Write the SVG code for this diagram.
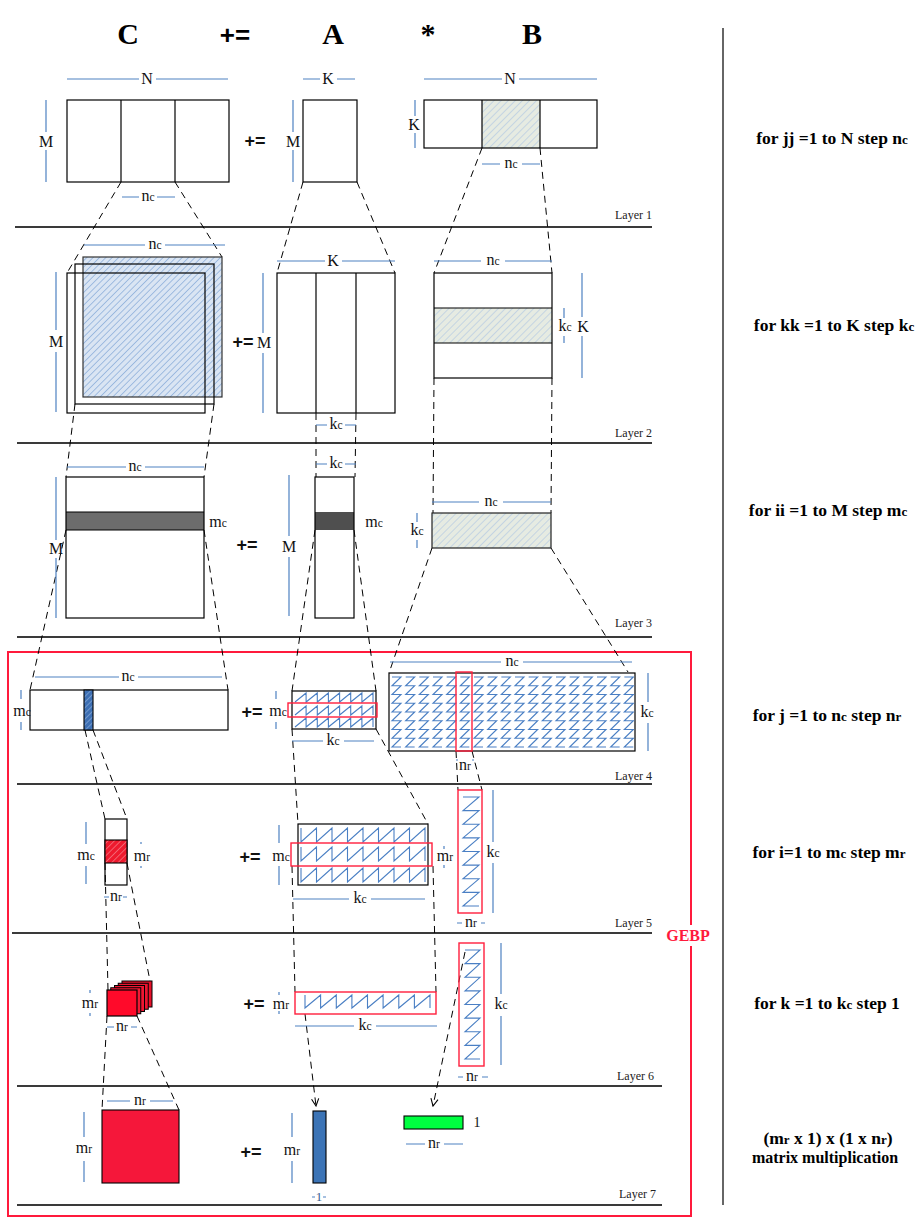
<svg xmlns="http://www.w3.org/2000/svg" xmlns:xlink="http://www.w3.org/1999/xlink" width="920" height="1226" viewBox="0 0 920 1226">
<style>
.k{fill:none;stroke:#000;stroke-width:1.2}
.d{fill:none;stroke:#000;stroke-width:1;stroke-dasharray:7 5}
.dim{fill:none;stroke:#4f82c2;stroke-width:1.2}
.sep{stroke:#3a3a3a;stroke-width:2}
.t{font-family:"Liberation Serif",serif;font-size:16px;text-anchor:middle;fill:#111}
.s{font-size:11.5px}
.lay{font-family:"Liberation Serif",serif;font-size:12px;text-anchor:end;fill:#222}
.pe{font-family:"Liberation Sans",sans-serif;font-weight:bold;font-size:18px;text-anchor:middle;fill:#111}
.hd{font-family:"Liberation Serif",serif;font-weight:bold;font-size:30px;text-anchor:middle;fill:#000}
.rt{font-family:"Liberation Serif",serif;font-weight:bold;font-size:17.5px;text-anchor:middle;fill:#000}
.rs{font-size:13px}
.zz{fill:none;stroke:#4a7fc4;stroke-width:1.1}
.rr{fill:none;stroke:#ff1f3d;stroke-width:1.4}
</style>
<defs>
<pattern id="hb" width="4.5" height="4.5" patternUnits="userSpaceOnUse" patternTransform="rotate(45)"><rect width="4.5" height="4.5" fill="#dae5f3"/><line x1="0" y1="0" x2="0" y2="4.5" stroke="#7fa5d6" stroke-width="1.3"/></pattern>
<pattern id="hg" width="5" height="5" patternUnits="userSpaceOnUse" patternTransform="rotate(45)"><rect width="5" height="5" fill="#e6ebe2"/><line x1="0" y1="0" x2="0" y2="5" stroke="#a9c2e2" stroke-width="1.1"/></pattern>
<pattern id="hd" width="4" height="4" patternUnits="userSpaceOnUse" patternTransform="rotate(45)"><rect width="4" height="4" fill="#3d6fb3"/><line x1="0" y1="0" x2="0" y2="4" stroke="#a4c0e6" stroke-width="1"/></pattern>
<pattern id="hr" width="4.5" height="4.5" patternUnits="userSpaceOnUse" patternTransform="rotate(45)"><rect width="4.5" height="4.5" fill="#ee1a2e"/><line x1="0" y1="0" x2="0" y2="4.5" stroke="#f6a3ab" stroke-width="1"/></pattern>
<path id="zcol" class="zz" d="M3,0 H12 L3,8.75 H12 L3,17.5 H12 L3,26.25 H12 L3,35 H12 L3,43.75 H12 L3,52.5 H12 L3,61.25 H12 L3,70 H12"/>
<path id="arow4" class="zz" d="M295,9 L306.1,0 V9 L317.3,0 V9 L328.4,0 V9 L339.6,0 V9 L350.7,0 V9 L361.9,0 V9 L373,0 V9"/>
<path id="arow5" class="zz" d="M301,0 V14 L316.5,0 V14 L332,0 V14 L347.5,0 V14 L363,0 V14 L378.5,0 V14 L394,0 V14 L409.5,0 V14 L425,0 V14"/>
<marker id="ar" viewBox="0 0 10 10" refX="9" refY="5" markerWidth="9" markerHeight="9" orient="auto" markerUnits="userSpaceOnUse"><path d="M1,1 L9,5 L1,9" fill="none" stroke="#000" stroke-width="1.2"/></marker>
</defs>
<rect width="920" height="1226" fill="#fff"/>

<g id="header">
<text class="hd" x="128" y="44">C</text>
<text x="235" y="44" font-family="Liberation Sans, sans-serif" font-weight="bold" font-size="26" text-anchor="middle">+=</text>
<text class="hd" x="333" y="44">A</text>
<text class="hd" x="428" y="44">*</text>
<text class="hd" x="532" y="44">B</text>
</g>

<g id="divider"><line x1="723" y1="28" x2="723" y2="1205" stroke="#333" stroke-width="1.5"/></g>

<g id="loops">
<text class="rt" x="832" y="144">for jj =1 to N step n<tspan class="rs">c</tspan></text>
<text class="rt" x="834" y="331">for kk =1 to K step k<tspan class="rs">c</tspan></text>
<text class="rt" x="828" y="516">for ii =1 to M step m<tspan class="rs">c</tspan></text>
<text class="rt" x="827" y="721">for j =1 to n<tspan class="rs">c</tspan> step n<tspan class="rs">r</tspan></text>
<text class="rt" x="829" y="858">for i=1 to m<tspan class="rs">c</tspan> step m<tspan class="rs">r</tspan></text>
<text class="rt" x="827" y="1009">for k =1 to k<tspan class="rs">c</tspan> step 1</text>
<text class="rt" x="828" y="1144">(m<tspan class="rs">r</tspan> x 1) x (1 x n<tspan class="rs">r</tspan>)</text>
<text class="rt" x="825" y="1163" style="font-size:16px">matrix multiplication</text>
</g>

<g id="layers">
<line class="sep" x1="15" y1="227" x2="652" y2="227"/>
<line class="sep" x1="17" y1="443" x2="652" y2="443"/>
<line class="sep" x1="17" y1="637" x2="652" y2="637"/>
<line class="sep" x1="17" y1="784" x2="652" y2="784"/>
<line class="sep" x1="12" y1="933" x2="652" y2="933"/>
<line class="sep" x1="17" y1="1086" x2="662" y2="1086"/>
<line class="sep" x1="17" y1="1205" x2="662" y2="1205"/>
<text class="lay" x="652" y="219">Layer 1</text>
<text class="lay" x="652" y="437">Layer 2</text>
<text class="lay" x="652" y="627">Layer 3</text>
<text class="lay" x="652" y="780">Layer 4</text>
<text class="lay" x="652" y="927">Layer 5</text>
<text class="lay" x="654" y="1080">Layer 6</text>
<text class="lay" x="656" y="1198">Layer 7</text>
</g>

<g id="gebp">
<rect x="8" y="652" width="683" height="564" fill="none" stroke="#ff1a3c" stroke-width="2"/>
<rect x="665" y="925" width="46" height="21" fill="#fff"/>
<text x="688" y="941" font-family="Liberation Serif, serif" font-weight="bold" font-size="16" fill="#ff1a3c" text-anchor="middle">GEBP</text>
</g>

<g id="connectors">
<line class="d" x1="121" y1="182" x2="67" y2="273"/>
<line class="d" x1="175" y1="182" x2="222" y2="257"/>
<line class="d" x1="303" y1="182" x2="277" y2="273"/>
<line class="d" x1="357" y1="182" x2="395" y2="273"/>
<line class="d" x1="482" y1="148" x2="434" y2="273"/>
<line class="d" x1="540" y1="148" x2="552" y2="273"/>
<line class="d" x1="75" y1="404" x2="66" y2="477"/>
<line class="d" x1="214" y1="404" x2="204" y2="477"/>
<line class="d" x1="316" y1="413" x2="316" y2="477"/>
<line class="d" x1="356" y1="413" x2="355" y2="477"/>
<line class="d" x1="434" y1="378" x2="433" y2="513"/>
<line class="d" x1="552" y1="378" x2="551" y2="513"/>
<line class="d" x1="66" y1="530" x2="30" y2="690"/>
<line class="d" x1="204" y1="530" x2="228" y2="690"/>
<line class="d" x1="315" y1="530" x2="292" y2="691"/>
<line class="d" x1="354" y1="530" x2="376" y2="691"/>
<line class="d" x1="432" y1="548" x2="389" y2="673"/>
<line class="d" x1="551" y1="548" x2="628" y2="672"/>
<line class="d" x1="85" y1="730" x2="105" y2="819"/>
<line class="d" x1="93" y1="730" x2="127" y2="819"/>
<line class="d" x1="292" y1="729" x2="298" y2="824"/>
<line class="d" x1="376" y1="729" x2="428" y2="824"/>
<line class="d" x1="456" y1="751" x2="458" y2="790"/>
<line class="d" x1="472" y1="751" x2="482" y2="790"/>
<line class="d" x1="105" y1="863" x2="108" y2="990"/>
<line class="d" x1="127" y1="863" x2="150" y2="981"/>
<line class="d" x1="292" y1="866" x2="295" y2="992"/>
<line class="d" x1="433" y1="866" x2="436" y2="992"/>
<line class="d" x1="107" y1="1016" x2="102" y2="1110"/>
<line class="d" x1="137" y1="1016" x2="179" y2="1110"/>
<line class="d" x1="305" y1="1014" x2="316" y2="1106" marker-end="url(#ar)"/>
<line class="d" x1="465" y1="952" x2="433" y2="1106" marker-end="url(#ar)"/>
</g>

<!-- Layer 1 -->
<g id="C1">
<rect class="k" x="67" y="100" width="162" height="82"/>
<line class="k" x1="121" y1="100" x2="121" y2="182"/>
<line class="k" x1="175" y1="100" x2="175" y2="182"/>
<path class="dim" d="M67,79 H139 M156,79 H228 M46,100 V132 M46,150 V182 M122,197 H139 M157,197 H175"/>
<text class="t" x="147" y="84">N</text>
<text class="t" x="46" y="147">M</text>
<text class="t" x="148" y="201">n<tspan class="s">c</tspan></text>
</g>
<text class="pe" x="255" y="147">+=</text>
<g id="A1">
<rect class="k" x="303" y="100" width="54" height="82"/>
<path class="dim" d="M303,79 H320 M337,79 H355 M293,100 V132 M293,150 V182"/>
<text class="t" x="328" y="84">K</text>
<text class="t" x="293" y="147">M</text>
</g>
<g id="B1">
<rect x="482" y="100" width="58" height="48" fill="url(#hg)"/>
<rect class="k" x="424" y="100" width="173" height="48"/>
<line class="k" x1="482" y1="100" x2="482" y2="148"/>
<line class="k" x1="540" y1="100" x2="540" y2="148"/>
<path class="dim" d="M424,79 H502 M519,79 H597 M415,100 V116 M415,133 V148 M482,164 H500 M522,164 H540"/>
<text class="t" x="510" y="84">N</text>
<text class="t" x="414" y="130">K</text>
<text class="t" x="511" y="168">n<tspan class="s">c</tspan></text>
</g>

<!-- Layer 2 -->
<g id="C2">
<rect x="83" y="257" width="139" height="140" fill="url(#hb)" stroke="#333" stroke-width="1.2"/>
<rect class="k" x="75" y="264" width="139" height="140"/>
<rect class="k" x="67" y="273" width="138" height="140"/>
<path class="dim" d="M84,245 H145 M165,245 H225 M56,272 V330 M56,352 V412"/>
<text class="t" x="155" y="249">n<tspan class="s">c</tspan></text>
<text class="t" x="56" y="347">M</text>
</g>
<text class="pe" x="243" y="348">+=</text>
<g id="A2">
<rect class="k" x="277" y="273" width="118" height="140"/>
<line class="k" x1="316" y1="273" x2="316" y2="413"/>
<line class="k" x1="356" y1="273" x2="356" y2="413"/>
<path class="dim" d="M277,261 H325 M342,261 H395 M263,273 V333 M263,353 V413 M316,425 H327 M345,425 H356"/>
<text class="t" x="333" y="266">K</text>
<text class="t" x="264" y="348">M</text>
<text class="t" x="336" y="429">k<tspan class="s">c</tspan></text>
</g>
<g id="B2">
<rect x="434" y="308" width="118" height="35" fill="url(#hg)"/>
<rect class="k" x="434" y="273" width="118" height="105"/>
<line class="k" x1="434" y1="308" x2="552" y2="308"/>
<line class="k" x1="434" y1="343" x2="552" y2="343"/>
<path class="dim" d="M434,261 H481 M505,261 H552 M564,308 V318 M564,336 V343 M582,273 V317 M582,336 V378"/>
<text class="t" x="493" y="265">n<tspan class="s">c</tspan></text>
<text class="t" x="565" y="331">k<tspan class="s">c</tspan></text>
<text class="t" x="583" y="332">K</text>
</g>

<!-- Layer 3 -->
<g id="C3">
<rect x="66" y="512" width="138" height="18" fill="#6c6c6c"/>
<rect class="k" x="66" y="477" width="138" height="141"/>
<line class="k" x1="66" y1="512" x2="204" y2="512"/>
<line class="k" x1="66" y1="530" x2="204" y2="530"/>
<path class="dim" d="M67,467 H126 M145,467 H204 M56,477 V540 M56,558 V618"/>
<text class="t" x="135" y="471">n<tspan class="s">c</tspan></text>
<text class="t" x="56" y="554">M</text>
<text class="t" x="218" y="527">m<tspan class="s">c</tspan></text>
</g>
<text class="pe" x="247" y="551">+=</text>
<g id="A3">
<rect x="315" y="512" width="39" height="18" fill="#4f4f4f"/>
<rect class="k" x="315" y="477" width="39" height="141"/>
<path class="dim" d="M316,464 H327 M345,464 H356 M289,475 V536 M289,557 V616"/>
<text class="t" x="336" y="468">k<tspan class="s">c</tspan></text>
<text class="t" x="289" y="552">M</text>
<text class="t" x="374" y="527">m<tspan class="s">c</tspan></text>
</g>
<g id="B3">
<rect x="432" y="513" width="119" height="35" fill="url(#hg)" stroke="#222" stroke-width="1.2"/>
<path class="dim" d="M432,502 H479 M503,502 H551 M417,513 V522 M417,540 V548"/>
<text class="t" x="491" y="506">n<tspan class="s">c</tspan></text>
<text class="t" x="417" y="535">k<tspan class="s">c</tspan></text>
</g>

<!-- Layer 4 -->
<g id="C4">
<rect class="k" x="30" y="690" width="198" height="40"/>
<rect x="84" y="690" width="9" height="40" fill="url(#hd)" stroke="#000" stroke-width="1.1"/>
<path class="dim" d="M35,677 H119 M138,677 H222 M21,690 V699 M21,722 V730"/>
<text class="t" x="128" y="681">n<tspan class="s">c</tspan></text>
<text class="t" x="22" y="716">m<tspan class="s">c</tspan></text>
</g>
<text class="pe" x="252" y="718">+=</text>
<g id="A4">
<rect class="k" x="292" y="691" width="84" height="38"/>
<use xlink:href="#arow4" href="#arow4" y="693"/>
<use xlink:href="#arow4" href="#arow4" y="706"/>
<use xlink:href="#arow4" href="#arow4" y="718"/>
<rect class="rr" x="288" y="703" width="89" height="14"/>
<path class="dim" d="M276,691 V699 M276,722 V729 M292,741 H323 M344,741 H374"/>
<text class="t" x="278" y="716">m<tspan class="s">c</tspan></text>
<text class="t" x="333" y="745">k<tspan class="s">c</tspan></text>
</g>
<g id="B4">
<rect class="k" x="389" y="673" width="246" height="78"/>
<use href="#zcol" x="389" y="677"/><use href="#zcol" x="402.67" y="677"/><use href="#zcol" x="416.33" y="677"/>
<use href="#zcol" x="430" y="677"/><use href="#zcol" x="443.67" y="677"/><use href="#zcol" x="457.33" y="677"/>
<use href="#zcol" x="471" y="677"/><use href="#zcol" x="484.67" y="677"/><use href="#zcol" x="498.33" y="677"/>
<use href="#zcol" x="512" y="677"/><use href="#zcol" x="525.67" y="677"/><use href="#zcol" x="539.33" y="677"/>
<use href="#zcol" x="553" y="677"/><use href="#zcol" x="566.67" y="677"/><use href="#zcol" x="580.33" y="677"/>
<use href="#zcol" x="594" y="677"/><use href="#zcol" x="607.67" y="677"/><use href="#zcol" x="621.33" y="677"/>
<rect class="rr" x="456" y="672" width="16" height="79"/>
<path class="dim" d="M390,662 H501 M523,662 H632 M648,673 V702 M648,723 V751 M456,760 H458 M472,760 H474"/>
<text class="t" x="512" y="666">n<tspan class="s">c</tspan></text>
<text class="t" x="647" y="717">k<tspan class="s">c</tspan></text>
<text class="t" x="465" y="770">n<tspan class="s">r</tspan></text>
</g>

<!-- Layer 5 -->
<g id="C5">
<rect class="k" x="105" y="819" width="22" height="66"/>
<rect x="105" y="840" width="22" height="23" fill="url(#hr)" stroke="#000" stroke-width="1.1"/>
<path class="dim" d="M86,822 V844 M86,866 V884 M141,842 V844 M141,866 V868 M104,897 H109 M123,897 H127"/>
<text class="t" x="86" y="860">m<tspan class="s">c</tspan></text>
<text class="t" x="142" y="861">m<tspan class="s">r</tspan></text>
<text class="t" x="116" y="901">n<tspan class="s">r</tspan></text>
</g>
<text class="pe" x="250" y="863">+=</text>
<g id="A5">
<rect class="k" x="298" y="824" width="130" height="61"/>
<use href="#arow5" y="828"/>
<use href="#arow5" y="847"/>
<use href="#arow5" y="868"/>
<rect class="rr" x="291" y="843" width="141" height="23"/>
<path class="dim" d="M279,825 V843 M279,866 V885 M444,846 V849 M444,865 V868 M293,899 H349 M371,899 H425"/>
<text class="t" x="281" y="861">m<tspan class="s">c</tspan></text>
<text class="t" x="445" y="861">m<tspan class="s">r</tspan></text>
<text class="t" x="360" y="903">k<tspan class="s">c</tspan></text>
</g>
<g id="B5">
<path class="zz" d="M463,797 H479 L463,810.6 H479 L463,824.3 H479 L463,837.9 H479 L463,851.5 H479 L463,865.1 H479 L463,878.8 H479 L463,892.4 H479 L463,906 H479"/>
<rect class="rr" x="458" y="790" width="24" height="123"/>
<path class="dim" d="M493,790 V842 M493,863 V913 M457,923 H462 M481,923 H485"/>
<text class="t" x="493" y="857">k<tspan class="s">c</tspan></text>
<text class="t" x="471" y="927">n<tspan class="s">r</tspan></text>
</g>

<!-- Layer 6 -->
<g id="C6">
<rect x="122" y="981" width="30" height="26" fill="#e8112a" stroke="#000" stroke-width="1"/>
<rect x="118.25" y="983.25" width="30" height="26" fill="#ec1430" stroke="#000" stroke-width="1"/>
<rect x="114.5" y="985.5" width="30" height="26" fill="#f01632" stroke="#000" stroke-width="1"/>
<rect x="110.75" y="987.75" width="30" height="26" fill="#f41834" stroke="#000" stroke-width="1"/>
<rect x="107" y="990" width="30" height="26" fill="#ff0a2a" stroke="#000" stroke-width="1.2"/>
<path class="dim" d="M90,990 V993 M90,1013 V1016 M107,1027 H114 M131,1027 H137"/>
<text class="t" x="90" y="1008">m<tspan class="s">r</tspan></text>
<text class="t" x="122" y="1031">n<tspan class="s">r</tspan></text>
</g>
<text class="pe" x="254" y="1010">+=</text>
<g id="A6">
<path class="zz" d="M305,995 V1008 L320.6,995 V1008 L336.3,995 V1008 L351.9,995 V1008 L367.5,995 V1008 L383.1,995 V1008 L398.8,995 V1008 L414.4,995 V1008 L430,995 V1008"/>
<rect class="rr" x="295" y="992" width="141" height="22"/>
<path class="dim" d="M279,992 V995 M279,1011 V1014 M295,1026 H354 M376,1026 H437"/>
<text class="t" x="281" y="1009">m<tspan class="s">r</tspan></text>
<text class="t" x="365" y="1030">k<tspan class="s">c</tspan></text>
</g>
<g id="B6">
<path class="zz" d="M465,950 H480 L465,963.6 H480 L465,977.3 H480 L465,990.9 H480 L465,1004.5 H480 L465,1018.1 H480 L465,1031.8 H480 L465,1045.4 H480 L465,1059 H480"/>
<rect class="rr" x="459" y="943" width="25" height="123"/>
<path class="dim" d="M501,943 V994 M501,1016 V1065 M458,1077 H463 M482,1077 H488"/>
<text class="t" x="501" y="1009">k<tspan class="s">c</tspan></text>
<text class="t" x="472" y="1081">n<tspan class="s">r</tspan></text>
</g>

<!-- Layer 7 -->
<g id="C7">
<rect x="102" y="1110" width="77" height="73" fill="#f5173a" stroke="#000" stroke-width="1.1"/>
<path class="dim" d="M107,1101 H130 M150,1101 H173 M84,1112 V1137 M84,1161 V1182"/>
<text class="t" x="140" y="1105">n<tspan class="s">r</tspan></text>
<text class="t" x="84" y="1153">m<tspan class="s">r</tspan></text>
</g>
<text class="pe" x="251" y="1158">+=</text>
<g id="A7">
<rect x="313" y="1111" width="13" height="72" fill="#3c74b6" stroke="#000" stroke-width="1.1"/>
<path class="dim" d="M292,1113 V1137 M292,1161 V1183 M312,1197 H315 M323,1197 H326"/>
<text class="t" x="292" y="1155">m<tspan class="s">r</tspan></text>
<text class="t" x="319" y="1201" style="font-size:13px;fill:#3d5f8f">1</text>
</g>
<g id="B7">
<rect x="404" y="1116" width="59" height="13" fill="#00ff40" stroke="#000" stroke-width="1.1"/>
<path class="dim" d="M406,1144 H425 M444,1144 H463"/>
<text class="t" x="477" y="1127" style="font-size:14px">1</text>
<text class="t" x="434" y="1148">n<tspan class="s">r</tspan></text>
</g>
</svg>
